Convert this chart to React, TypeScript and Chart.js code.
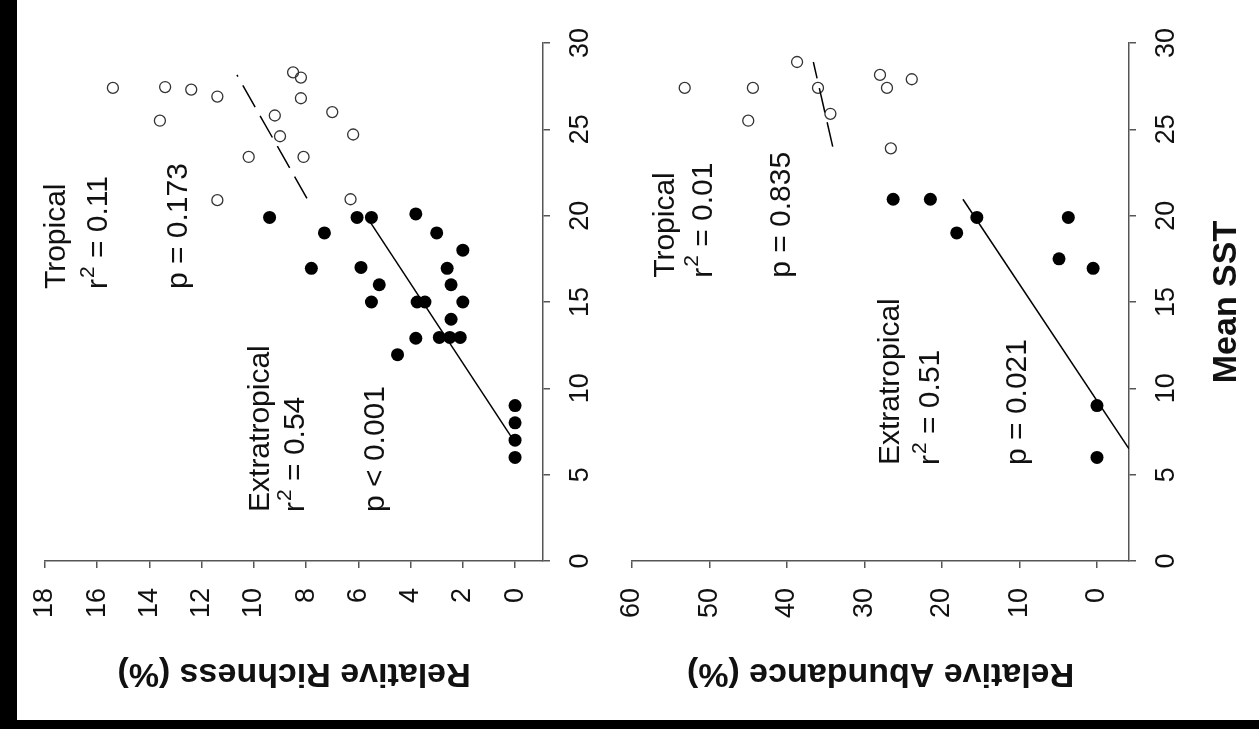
import React, { useEffect, useRef } from "react";
import { Chart, registerables } from "chart.js";

Chart.register(...registerables);

const FONT = '"Liberation Sans", Arial, Helvetica, sans-serif';

// ---- tick labels ----
const sstTicks = [0, 5, 10, 15, 20, 25, 30];
const richTicks = [0, 2, 4, 6, 8, 10, 12, 14, 16, 18];
const abunTicks = [0, 10, 20, 30, 40, 50, 60];

// ---- Relative richness (%) vs mean SST ----
const richTropR = [15.4, 13.4, 12.4, 11.4, 13.6, 11.4, 10.2, 9.2, 9.0, 8.5, 8.2, 8.2, 8.1, 7.0, 6.2, 6.3];
const richTropSST = [27.4, 27.45, 27.3, 26.9, 25.5, 20.9, 23.4, 25.8, 24.6, 28.3, 28.0, 26.8, 23.4, 26.0, 24.7, 20.95];
const richExtraR = [9.4, 7.3, 6.05, 5.5, 3.8, 3.0, 2.0, 7.8, 5.9, 2.6, 5.2, 2.45, 5.5, 3.75, 3.45, 2.0, 2.45, 3.8, 2.9, 2.5, 2.1, 4.5, 0, 0, 0, 0];
const richExtraSST = [19.9, 19.0, 19.9, 19.9, 20.1, 19.0, 18.0, 16.95, 17.0, 16.95, 16.0, 16.0, 15.0, 15.0, 15.0, 15.0, 14.0, 12.9, 12.95, 12.95, 12.95, 11.95, 9.0, 8.0, 7.0, 6.0];
const richTropFitR = [7.97, 10.65];
const richTropFitSST = [21.0, 28.15];
const richExtraFitR = [0.15, 5.71];
const richExtraFitSST = [7.2, 20.0];

// ---- Relative abundance (%) vs mean SST ----
const abunTropA = [53.2, 44.4, 45.0, 38.7, 36.0, 34.4, 28.0, 27.1, 23.9, 26.6];
const abunTropSST = [27.4, 27.4, 25.5, 28.9, 27.4, 25.9, 28.15, 27.4, 27.9, 23.9];
const abunExtraA = [26.3, 21.5, 15.5, 18.1, 3.7, 4.9, 0.5, 0, 0];
const abunExtraSST = [20.95, 20.95, 19.9, 19.0, 19.9, 17.5, 16.95, 9.0, 6.0];
const abunTropFitA = [34.1, 36.6];
const abunTropFitSST = [24.0, 28.9];
const abunExtraFitA = [-4.13, 17.3];
const abunExtraFitSST = [6.5, 20.95];

type Note = { pre?: string; sup?: string; text: string; x: number; y: number };

const richNotes: Note[] = [
  { text: "Tropical", x: 17.55, y: 15.75 },
  { pre: "r", sup: "2", text: " = 0.11", x: 15.94, y: 15.75 },
  { text: "p = 0.173", x: 12.87, y: 15.75 },
  { text: "Extratropical", x: 9.73, y: 2.84 },
  { pre: "r", sup: "2", text: " = 0.54", x: 8.39, y: 2.84 },
  { text: "p < 0.001", x: 5.33, y: 2.84 },
];

const abunNotes: Note[] = [
  { text: "Tropical", x: 55.6, y: 16.4 },
  { pre: "r", sup: "2", text: " = 0.01", x: 50.8, y: 16.4 },
  { text: "p = 0.835", x: 40.7, y: 16.4 },
  { text: "Extratropical", x: 26.6, y: 5.56 },
  { pre: "r", sup: "2", text: " = 0.51", x: 21.4, y: 5.56 },
  { text: "p = 0.021", x: 10.2, y: 5.56 },
];

const zip = (xs: number[], ys: number[]) => xs.map((v, i) => ({ x: v, y: ys[i] }));

type Panel = {
  title: string;
  sstTitle?: string;
  xTicks: number[];
  xMin: number;
  xMax: number;
  pad: { left: number; right: number; top: number; bottom: number };
  trop: { x: number; y: number }[];
  extra: { x: number; y: number }[];
  tropFit: { x: number; y: number }[];
  extraFit: { x: number; y: number }[];
  notes: Note[];
};

const W = 1259;
const H = 729;

const panels: Panel[] = [
  {
    title: "Relative Richness (%)",
    xTicks: richTicks,
    xMin: -1.07,
    xMax: 18,
    pad: { left: 45, right: W - 543, top: 43, bottom: H - 561 },
    trop: zip(richTropR, richTropSST),
    extra: zip(richExtraR, richExtraSST),
    tropFit: zip(richTropFitR, richTropFitSST),
    extraFit: zip(richExtraFitR, richExtraFitSST),
    notes: richNotes,
  },
  {
    title: "Relative Abundance (%)",
    sstTitle: "Mean SST",
    xTicks: abunTicks,
    xMin: -4.13,
    xMax: 60,
    pad: { left: 632, right: W - 1129, top: 43, bottom: H - 561 },
    trop: zip(abunTropA, abunTropSST),
    extra: zip(abunExtraA, abunExtraSST),
    tropFit: zip(abunTropFitA, abunTropFitSST),
    extraFit: zip(abunExtraFitA, abunExtraFitSST),
    notes: abunNotes,
  },
];

function textPlugin(p: Panel) {
  return {
    id: "panelText",
    afterDraw(chart: any) {
      const ctx: CanvasRenderingContext2D = chart.ctx;
      const xs = chart.scales.x;
      const ys = chart.scales.y;
      const a = chart.chartArea;
      ctx.save();
      ctx.fillStyle = "#111";
      // tick labels, rotated
      ctx.font = `27px ${FONT}`;
      for (const v of p.xTicks) {
        const px = xs.getPixelForValue(v);
        ctx.save();
        ctx.translate(px, a.bottom + 27);
        ctx.rotate(-Math.PI / 2);
        ctx.textAlign = "right";
        ctx.textBaseline = "middle";
        ctx.fillText(String(v), 0, 0);
        ctx.restore();
      }
      for (const v of sstTicks) {
        const py = ys.getPixelForValue(v);
        ctx.save();
        ctx.translate(a.right + 38, py);
        ctx.rotate(-Math.PI / 2);
        ctx.textAlign = "center";
        ctx.textBaseline = "middle";
        ctx.fillText(String(v), 0, 0);
        ctx.restore();
      }
      // axis titles
      ctx.font = `bold 34px ${FONT}`;
      ctx.save();
      ctx.translate((a.left + a.right) / 2, a.bottom + 112);
      ctx.rotate(Math.PI);
      ctx.textAlign = "center";
      ctx.textBaseline = "middle";
      ctx.fillText(p.title, 0, 0);
      ctx.restore();
      if (p.sstTitle) {
        ctx.save();
        ctx.translate(a.right + 98, (a.top + a.bottom) / 2);
        ctx.rotate(-Math.PI / 2);
        ctx.textAlign = "center";
        ctx.textBaseline = "middle";
        ctx.fillText(p.sstTitle, 0, 0);
        ctx.restore();
      }
      // annotations
      for (const n of p.notes) {
        const px = xs.getPixelForValue(n.x);
        const py = ys.getPixelForValue(n.y);
        ctx.save();
        ctx.translate(px, py);
        ctx.rotate(-Math.PI / 2);
        ctx.textAlign = "left";
        ctx.textBaseline = "middle";
        ctx.font = `30px ${FONT}`;
        let off = 0;
        if (n.pre) {
          ctx.fillText(n.pre, 0, 0);
          off += ctx.measureText(n.pre).width + 1;
        }
        if (n.sup) {
          ctx.font = `21px ${FONT}`;
          ctx.fillText(n.sup, off, -11);
          off += ctx.measureText(n.sup).width;
          ctx.font = `30px ${FONT}`;
        }
        ctx.fillText(n.text, off, 0);
        ctx.restore();
      }
      ctx.restore();
    },
  };
}

function PanelChart({ p }: { p: Panel }) {
  const ref = useRef<HTMLCanvasElement | null>(null);
  useEffect(() => {
    if (!ref.current) return;
    const axisColor = "#555";
    const chart = new Chart(ref.current, {
      type: "scatter",
      data: {
        datasets: [
          {
            data: p.tropFit,
            showLine: true,
            pointRadius: 0,
            borderColor: "#000",
            borderWidth: 1.5,
            borderDash: [25, 10],
          },
          {
            data: p.extraFit,
            showLine: true,
            pointRadius: 0,
            borderColor: "#000",
            borderWidth: 1.5,
          },
          {
            data: p.trop,
            pointStyle: "circle",
            pointRadius: 5.5,
            pointBorderWidth: 1.3,
            pointBorderColor: "#333",
            pointBackgroundColor: "rgba(0,0,0,0)",
            borderColor: "#333",
            backgroundColor: "rgba(0,0,0,0)",
          },
          {
            data: p.extra,
            pointStyle: "circle",
            pointRadius: 6.5,
            pointBorderWidth: 0,
            pointBackgroundColor: "#000",
            backgroundColor: "#000",
            borderColor: "#000",
          },
        ],
      } as any,
      options: {
        responsive: false,
        animation: false,
        devicePixelRatio: 1,
        events: [],
        layout: { padding: p.pad },
        plugins: { legend: { display: false }, tooltip: { enabled: false } },
        scales: {
          x: {
            type: "linear",
            position: "bottom",
            reverse: true,
            min: p.xMin,
            max: p.xMax,
            afterFit: (s: any) => {
              s.height = 0;
            },
            afterBuildTicks: (s: any) => {
              s.ticks = p.xTicks.map((v) => ({ value: v }));
            },
            ticks: { display: false },
            grid: {
              display: true,
              drawOnChartArea: false,
              drawTicks: true,
              tickLength: 7,
              color: axisColor,
              lineWidth: 1.5,
            },
            border: { display: true, color: axisColor, width: 1.5 },
          },
          y: {
            type: "linear",
            position: "right",
            min: 0,
            max: 30,
            afterFit: (s: any) => {
              s.width = 0;
            },
            afterBuildTicks: (s: any) => {
              s.ticks = sstTicks.map((v) => ({ value: v }));
            },
            ticks: { display: false },
            grid: {
              display: true,
              drawOnChartArea: false,
              drawTicks: true,
              tickLength: 7,
              color: axisColor,
              lineWidth: 1.5,
            },
            border: { display: true, color: axisColor, width: 1.5 },
          },
        },
      } as any,
      plugins: [textPlugin(p)],
    });
    return () => chart.destroy();
  }, [p]);
  return (
    <canvas
      ref={ref}
      width={W}
      height={H}
      style={{ position: "absolute", left: 0, top: 0, width: W, height: H }}
    />
  );
}

export default function App() {
  return (
    <div
      style={{
        position: "absolute",
        left: 0,
        top: 0,
        width: W,
        height: H,
        background: "#000",
        overflow: "hidden",
      }}
    >
      <div
        style={{
          position: "absolute",
          left: 17,
          top: 0,
          width: W - 17,
          height: 720,
          background: "#fff",
        }}
      />
      {panels.map((p, i) => (
        <PanelChart key={i} p={p} />
      ))}
    </div>
  );
}
